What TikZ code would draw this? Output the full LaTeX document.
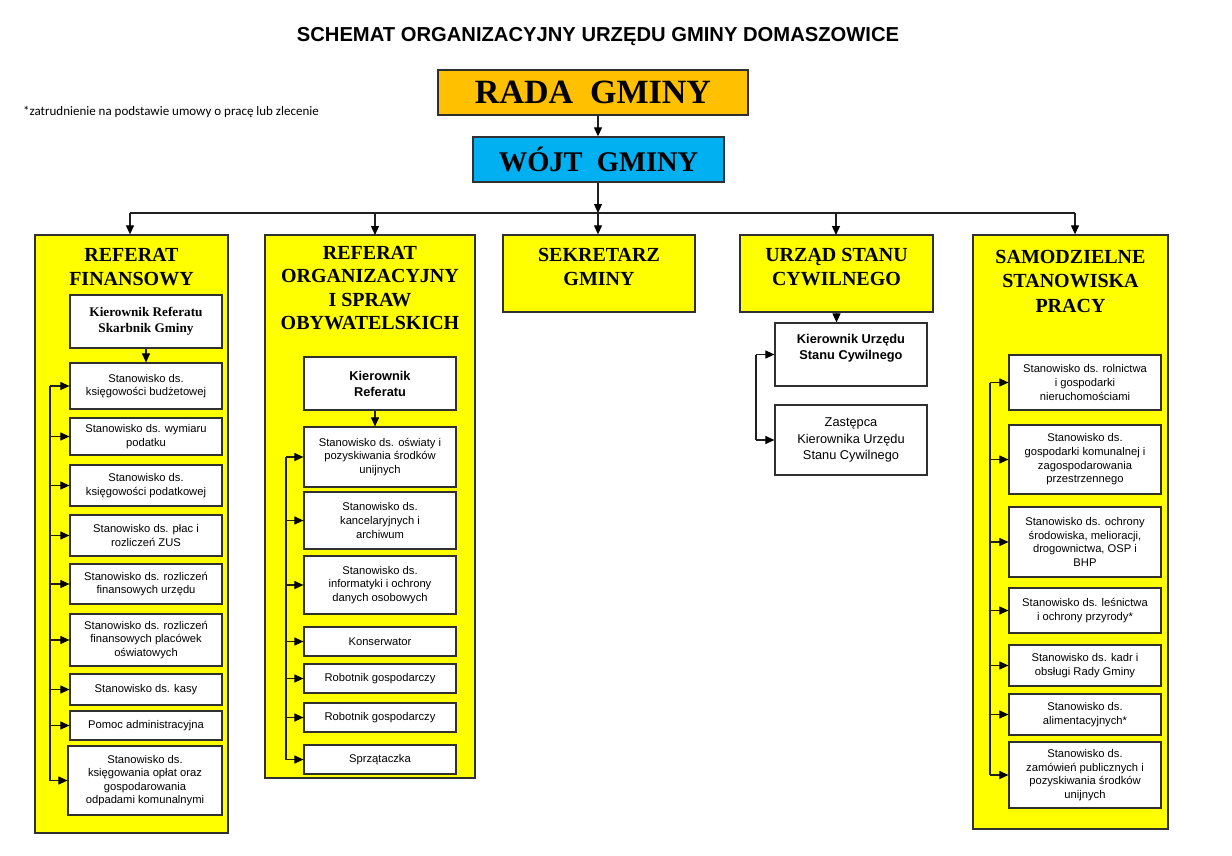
\documentclass[tikz,border=0pt]{standalone}
\usepackage{fontspec}
\setmainfont{Liberation Serif}
\newfontfamily\arialf{Liberation Sans}
\newfontfamily\calibf{Carlito}
\usetikzlibrary{arrows.meta}
\definecolor{boxline}{HTML}{303030}
\definecolor{connline}{HTML}{202020}
\definecolor{radaorange}{HTML}{FFC000}
\definecolor{wojtblue}{HTML}{00B0F0}
\definecolor{unityellow}{HTML}{FFFF00}
\newcommand{\pbox}[7]{\node[#2, minimum width={#5pt-#3pt}, minimum height={#6pt-#4pt}] (#1) at ({(#3+#5)/2},{(#4+#6)/2}) {#7};}
\tikzset{
  conn/.style={draw=connline, line width=1.1pt, -{Triangle[length=9pt,width=8pt,color=black]}},
  plainline/.style={draw=connline, line width=1.1pt},
  unitbox/.style={draw=boxline, line width=1.3pt, fill=unityellow, inner sep=0pt},
  unittitle/.style={inner sep=0pt, align=center, font=\bfseries\fontsize{20}{24.5}\selectfont},
  subbox/.style={draw=boxline, line width=1.2pt, fill=white, inner sep=0pt, align=center, font=\arialf\fontsize{11.2}{13.6}\selectfont},
  headsans/.style={subbox, font=\arialf\bfseries\fontsize{12.8}{16}\selectfont},
  headserif/.style={subbox, font=\bfseries\fontsize{13.2}{16}\selectfont},
  zastbox/.style={subbox, font=\arialf\fontsize{12.8}{16.5}\selectfont},
}
\begin{document}
\begin{tikzpicture}[x=1pt,y=-1pt]
\useasboundingbox (0,0) rectangle (1232,856);
\fill[white] (0,0) rectangle (1232,856);

% headings
\node[inner sep=0pt, font=\arialf\bfseries\fontsize{20.2}{24}\selectfont] (title) at (598,37) {SCHEMAT ORGANIZACYJNY URZĘDU GMINY DOMASZOWICE};
\node[inner sep=0pt, anchor=west, font=\calibf\fontsize{13}{15}\selectfont] (note) at (23,112) {*zatrudnienie na podstawie umowy o pracę lub zlecenie};

\pbox{rada}{draw=boxline, line width=1.3pt, fill=radaorange, inner sep=0pt, font=\bfseries\fontsize{34}{40}\selectfont}{438}{70}{748}{115}{RADA\ \ GMINY}
\pbox{wojt}{draw=boxline, line width=1.3pt, fill=wojtblue, inner sep=0pt, font=\bfseries\fontsize{28.5}{34}\selectfont}{473}{137}{724}{182}{WÓJT\ \ GMINY}

% unit boxes
\pbox{fin}{unitbox}{35}{235}{228}{833}{}
\pbox{org}{unitbox}{265}{235}{475}{778}{}
\pbox{sek}{unitbox}{503}{235}{695}{312}{}
\pbox{usc}{unitbox}{740}{235}{933}{312}{}
\pbox{sam}{unitbox}{973}{235}{1168}{829}{}

\node[unittitle] (finT) at (131.5,267) {REFERAT\\FINANSOWY};
\node[unittitle, font=\bfseries\fontsize{20}{23.3}\selectfont] (orgT) at (370,288) {REFERAT\\ORGANIZACYJNY\\I SPRAW\\OBYWATELSKICH};
\node[unittitle] (sekT) at (599,267) {SEKRETARZ\\GMINY};
\node[unittitle] (uscT) at (836.5,267) {URZĄD STANU\\CYWILNEGO};
\node[unittitle] (samT) at (1070.5,281) {SAMODZIELNE\\STANOWISKA\\PRACY};

% bus
\coordinate (bus) at (598,213);
\coordinate (busL) at (130,213);
\coordinate (busR) at (1075,213);
\draw[conn] (bus |- rada.south) -- (bus |- wojt.north);
\draw[conn] (bus |- wojt.south) -- (bus);
\draw[plainline] (busL) -- (busR);
\draw[conn] (busL) -- (busL |- fin.north);
\draw[conn] (375,213) -- (375,235);
\draw[conn] (bus) -- (bus |- sek.north);
\draw[conn] (836,213) -- (836,235);
\draw[conn] (busR) -- (busR |- sam.north);

% Referat finansowy
\pbox{fk}{headserif}{70}{295}{222}{348}{Kierownik Referatu\\Skarbnik Gminy}
\pbox{f1}{subbox}{70}{363}{222}{409}{Stanowisko ds.\\księgowości budżetowej}
\pbox{f2}{subbox}{70}{418}{222}{455}{Stanowisko ds. wymiaru\\podatku}
\pbox{f3}{subbox}{70}{465}{222}{506}{Stanowisko ds.\\księgowości podatkowej}
\pbox{f4}{subbox}{70}{515}{222}{556}{Stanowisko ds. płac i\\rozliczeń ZUS}
\pbox{f5}{subbox}{70}{564}{222}{604}{Stanowisko ds. rozliczeń\\finansowych urzędu}
\pbox{f6}{subbox}{70}{614}{222}{666}{Stanowisko ds. rozliczeń\\finansowych placówek\\oświatowych}
\pbox{f7}{subbox}{70}{674}{222}{705}{Stanowisko ds. kasy}
\pbox{f8}{subbox}{70}{711}{222}{740}{Pomoc administracyjna}
\pbox{f9}{subbox}{68}{746}{222}{815}{Stanowisko ds.\\księgowania opłat oraz\\gospodarowania\\odpadami komunalnymi}
\draw[conn] (fk.south) -- (f1.north);
\coordinate (fsp) at (50,0);
\draw[plainline] (f1.west -| fsp) -- (f9.west -| fsp);
\foreach \b in {f1,f2,f3,f4,f5,f6,f7,f8,f9}
  \draw[conn] (\b.west -| fsp) -- (\b.west);

% Referat organizacyjny
\pbox{ok}{headsans}{304}{357}{456}{410}{Kierownik\\Referatu}
\pbox{o1}{subbox}{304}{427}{456}{487}{Stanowisko ds. oświaty i\\pozyskiwania środków\\unijnych}
\pbox{o2}{subbox}{304}{492}{456}{549}{Stanowisko ds.\\kancelaryjnych i\\archiwum}
\pbox{o3}{subbox}{304}{556}{456}{614}{Stanowisko ds.\\informatyki i ochrony\\danych osobowych}
\pbox{o4}{subbox}{304}{627}{456}{656}{Konserwator}
\pbox{o5}{subbox}{304}{664}{456}{693}{Robotnik gospodarczy}
\pbox{o6}{subbox}{304}{703}{456}{732}{Robotnik gospodarczy}
\pbox{o7}{subbox}{304}{745}{456}{774}{Sprzątaczka}
\draw[conn] ([xshift=-5pt]ok.south) -- ([xshift=-5pt]o1.north);
\coordinate (osp) at (286,0);
\draw[plainline] (o1.west -| osp) -- (o7.west -| osp);
\foreach \b in {o1,o2,o3,o4,o5,o6,o7}
  \draw[conn] (\b.west -| osp) -- (\b.west);

% USC
\pbox{uk}{headsans}{775}{323}{927}{386}{Kierownik Urzędu\\Stanu Cywilnego\\\mbox{}}
\pbox{uz}{zastbox}{775}{405}{927}{475}{Zastępca\\Kierownika Urzędu\\Stanu Cywilnego}
\draw[conn] (usc.south) -- (usc.south |- uk.north);
\coordinate (usp) at (756,0);
\draw[plainline] (uk.west -| usp) -- (uz.west -| usp);
\foreach \b in {uk,uz}
  \draw[conn] (\b.west -| usp) -- (\b.west);

% Samodzielne
\pbox{s1}{subbox}{1009}{355}{1161}{410}{Stanowisko ds. rolnictwa\\i gospodarki\\nieruchomościami}
\pbox{s2}{subbox}{1009}{425}{1161}{494}{Stanowisko ds.\\gospodarki komunalnej i\\zagospodarowania\\przestrzennego}
\pbox{s3}{subbox}{1009}{507}{1161}{577}{Stanowisko ds. ochrony\\środowiska, melioracji,\\drogownictwa, OSP i\\BHP}
\pbox{s4}{subbox}{1009}{588}{1161}{633}{Stanowisko ds. leśnictwa\\i ochrony przyrody*}
\pbox{s5}{subbox}{1009}{645}{1161}{686}{Stanowisko ds. kadr i\\obsługi Rady Gminy}
\pbox{s6}{subbox}{1009}{694}{1161}{735}{Stanowisko ds.\\alimentacyjnych*}
\pbox{s7}{subbox}{1009}{742}{1161}{808}{Stanowisko ds.\\zamówień publicznych i\\pozyskiwania środków\\unijnych}
\coordinate (ssp) at (990,0);
\draw[plainline] (s1.west -| ssp) -- (s7.west -| ssp);
\foreach \b in {s1,s2,s3,s4,s5,s6,s7}
  \draw[conn] (\b.west -| ssp) -- (\b.west);
\end{tikzpicture}
\end{document}
